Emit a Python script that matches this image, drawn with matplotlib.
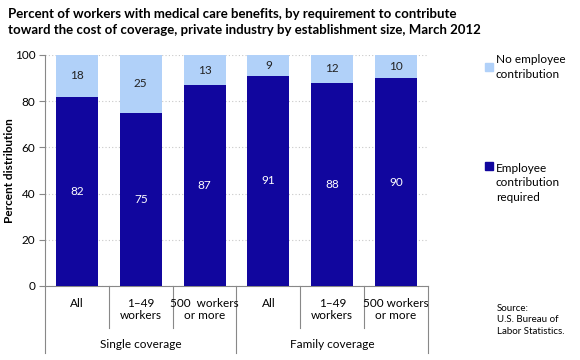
import matplotlib.pyplot as plt
import numpy as np

plt.rcParams['font.family'] = ['Lato', 'DejaVu Sans']

# данные
categories = ["All", "1\u201349\nworkers", "500  workers\nor more",
              "All", "1\u201349\nworkers", "500 workers\nor more"]
groups = ["Single coverage", "Family coverage"]
required = [82, 75, 87, 91, 88, 90]
no_contrib = [18, 25, 13, 9, 12, 10]

dark = "#11069E"
light = "#B1D1F9"

fig = plt.figure(figsize=(5.8, 3.6), dpi=100)
W, H = 580, 360
ax = fig.add_axes([45 / W, 1 - 286 / H, (428 - 45) / W, (286 - 55) / H])

x = np.arange(len(categories))
ax.bar(x, required, width=0.66, color=dark, zorder=3)
ax.bar(x, no_contrib, bottom=required, width=0.66, color=light, zorder=3)

for i in range(len(x)):
    ax.text(x[i], required[i] / 2, str(required[i]), ha="center", va="center",
            color="white", fontsize=8.5, zorder=4)
    ax.text(x[i], required[i] + no_contrib[i] / 2, str(no_contrib[i]),
            ha="center", va="center", color="#222222", fontsize=8.5, zorder=4)

ax.set_xlim(-0.5, len(x) - 0.5)
ax.set_ylim(0, 100)
ax.set_yticks(range(0, 101, 20))
ax.yaxis.grid(True, color="#C8C8C8", linestyle=(0, (1, 2)), linewidth=0.8, zorder=0)
for s in ["top", "right"]:
    ax.spines[s].set_visible(False)
ax.spines["left"].set_color("#888888")
ax.spines["bottom"].set_color("#888888")
ax.tick_params(axis="y", colors="#888888", labelcolor="black", labelsize=8.5,
               length=4, pad=3)
ax.set_xticks([])
ax.set_ylabel("Percent distribution", fontsize=8.5, fontweight="bold")
ax.yaxis.set_label_coords(-30 / (428 - 45), 0.5)

# подписи категорий и разделители
for i, c in enumerate(categories):
    ax.text(x[i], -5, c, ha="center", va="top", fontsize=8.5,
            transform=ax.transData, clip_on=False)
for b in range(len(x) + 1):
    edge = b - 0.5
    low = -29 if b % 3 == 0 else -18
    ax.plot([edge, edge], [0, low], color="#888888", linewidth=0.8, clip_on=False)
for g, name in enumerate(groups):
    ax.text(g * 3 + 1, -23, name, ha="center", va="top", fontsize=8.5,
            clip_on=False)

fig.text(8 / W, 1 - 8 / H,
         "Percent of workers with medical care benefits, by requirement to contribute\n"
         "toward the cost of coverage, private industry by establishment size, March 2012",
         ha="left", va="top", fontsize=9.5, fontweight="bold", linespacing=1.45)

# легенда
fig.patches.append(plt.Rectangle((485 / W, 1 - 71 / H), 8 / W, 8 / H,
                                 color=light, transform=fig.transFigure))
fig.text(496 / W, 1 - 67 / H, "No employee\ncontribution", ha="left", va="center",
         fontsize=8.5, linespacing=1.35)
fig.patches.append(plt.Rectangle((485 / W, 1 - 170 / H), 8 / W, 8 / H,
                                 color=dark, transform=fig.transFigure))
fig.text(496 / W, 1 - 183 / H, "Employee\ncontribution\nrequired", ha="left",
         va="center", fontsize=8.5, linespacing=1.35)

fig.text(497 / W, 1 - 320 / H, "Source:\nU.S. Bureau of\nLabor Statistics.",
         ha="left", va="center", fontsize=7, linespacing=1.4)

fig.savefig("out.png", dpi=100)
